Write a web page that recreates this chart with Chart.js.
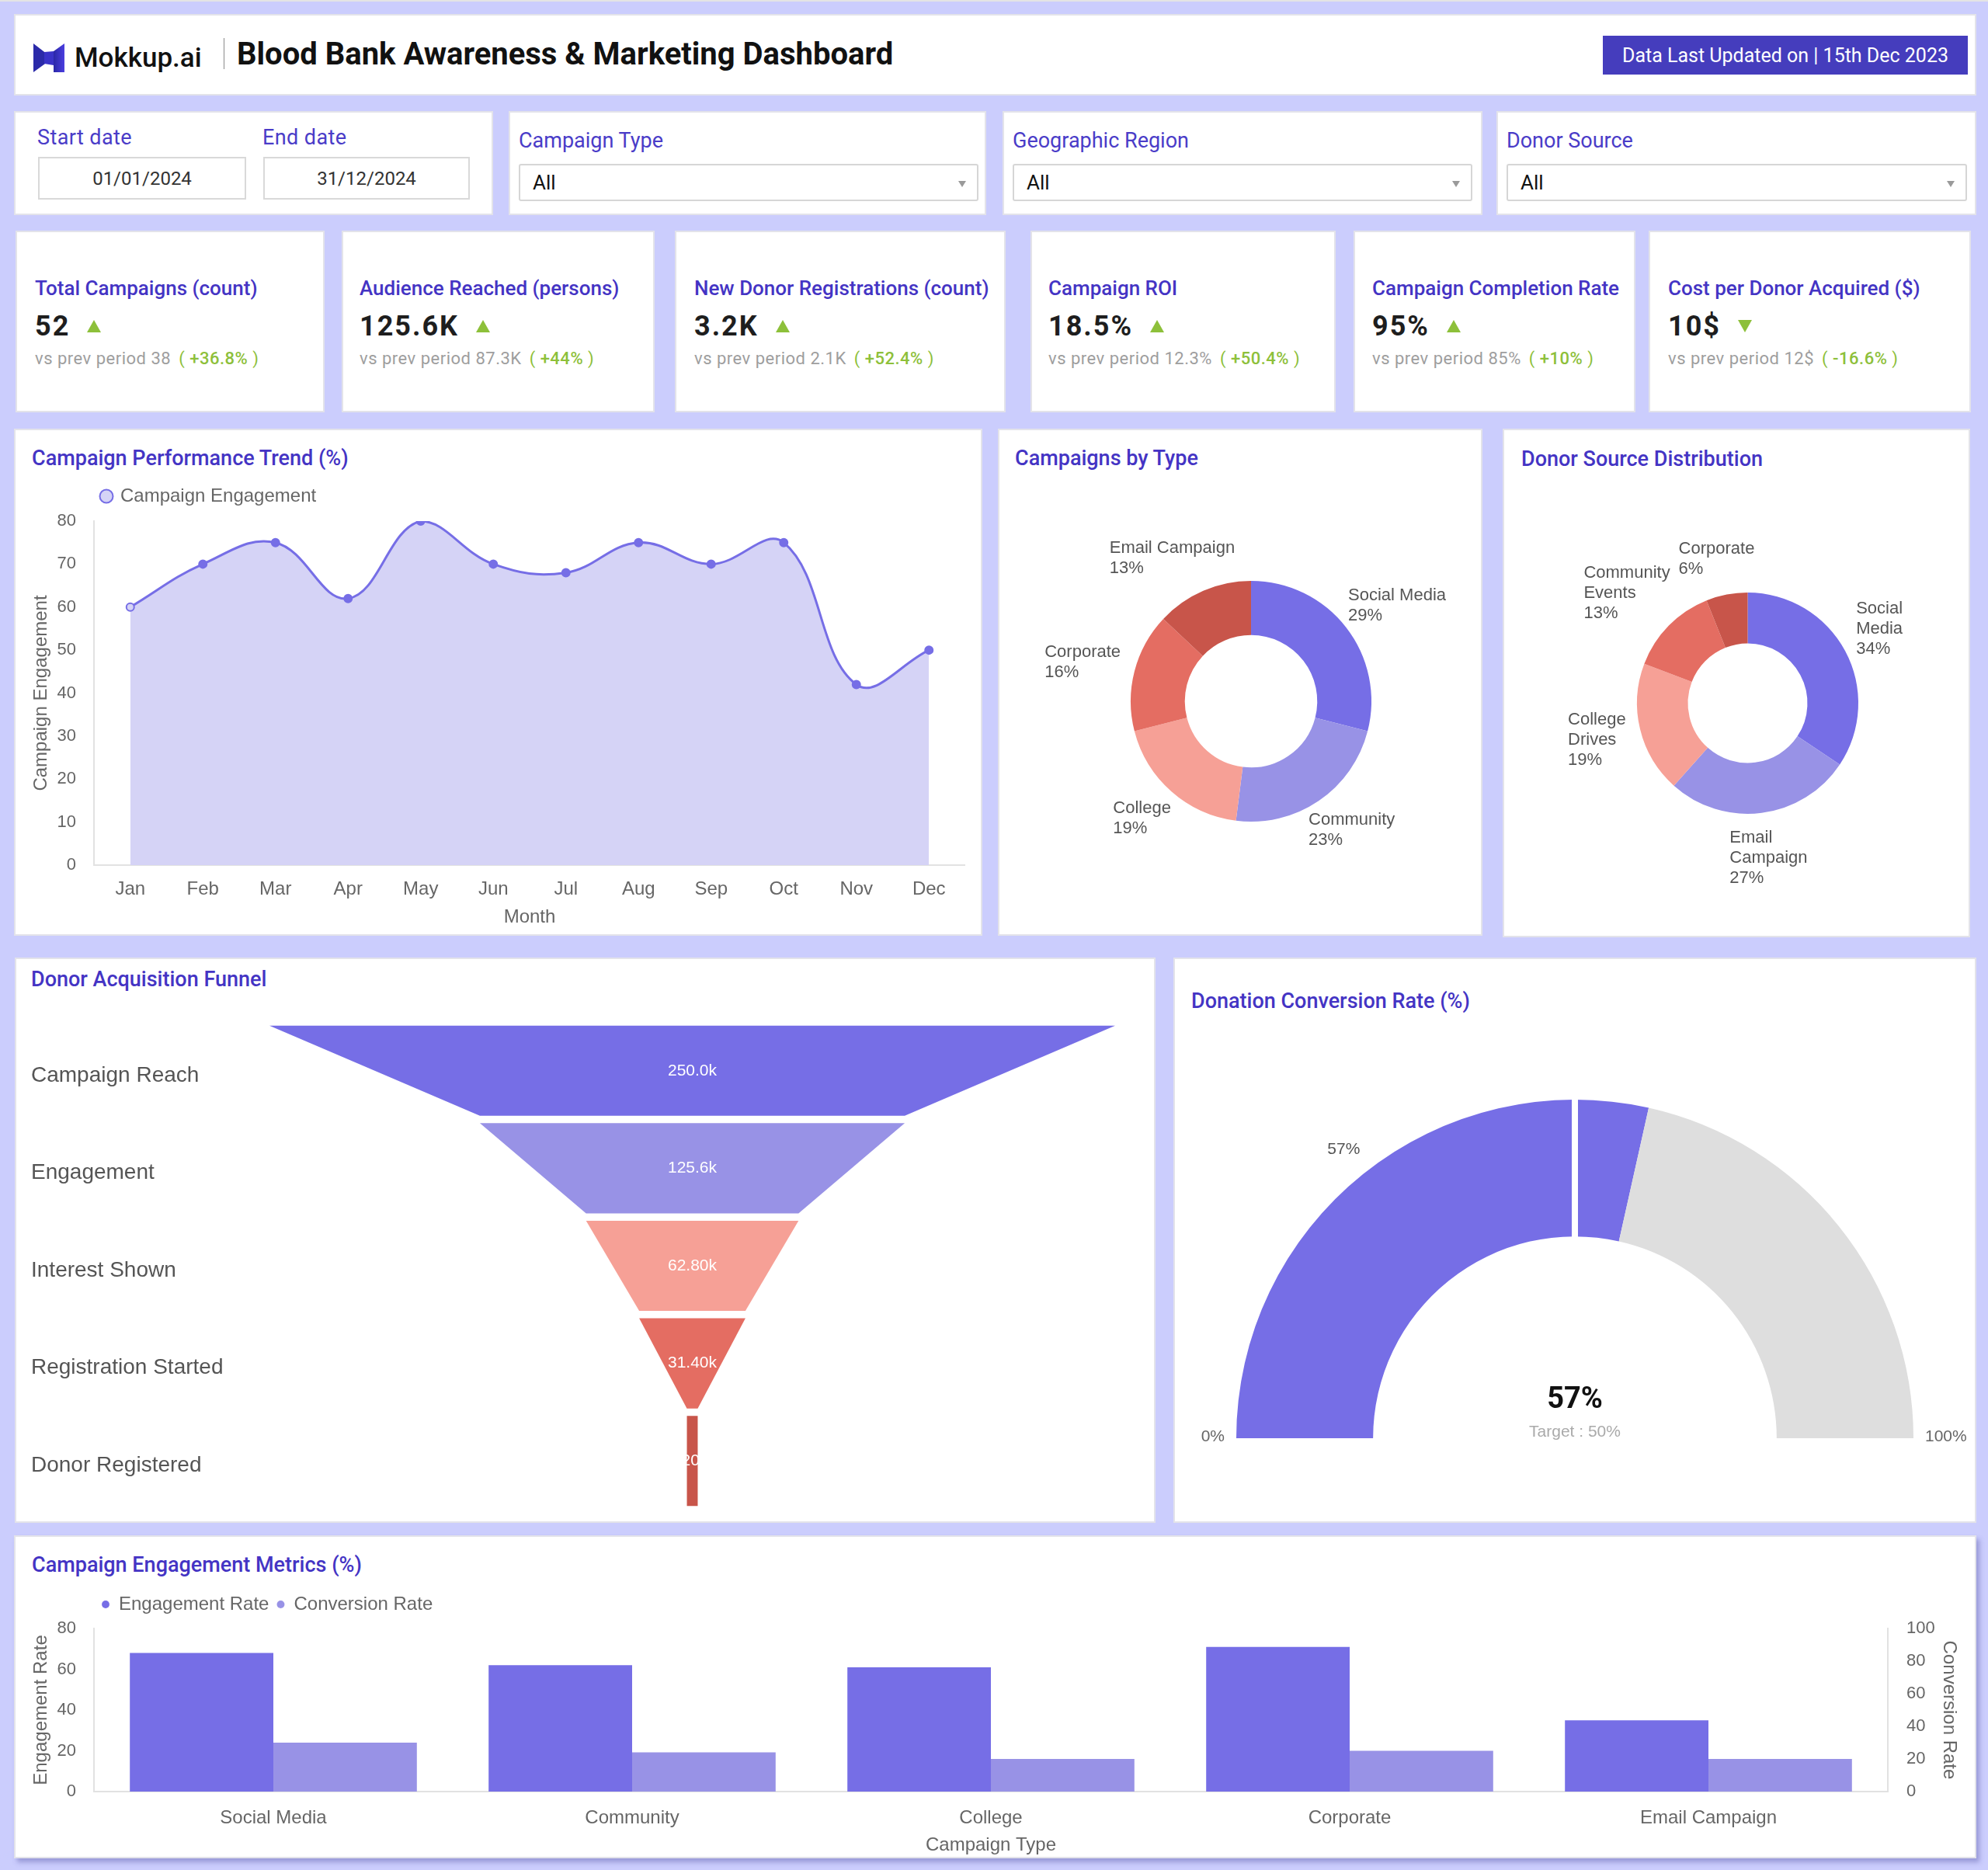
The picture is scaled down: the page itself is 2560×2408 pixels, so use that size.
<!DOCTYPE html>
<html>
<head>
<meta charset="utf-8">
<title>Blood Bank Awareness & Marketing Dashboard</title>
<script src="https://cdn.jsdelivr.net/npm/chart.js@4.4.1/dist/chart.umd.min.js"></script>
<style>
  body { margin: 0; width: 2560px; height: 2408px; background: #cbcdfd; position: relative; overflow: hidden; font-family: Roboto, sans-serif; }
  .topline { position: absolute; left: 0; top: 0; width: 2560px; height: 2px; background: #e4e4e4; }
  .card { position: absolute; background: #fff; border: 2px solid #e3e3ea; box-sizing: border-box; }
  .t { position: absolute; white-space: nowrap; line-height: 1; }
  .head { color: #4434c4; font-weight: 500; font-size: 27px; }
  .flab { color: #4a3cc8; font-size: 27px; }
  .date { position: absolute; border: 2px solid #d9d9d9; box-sizing: border-box; display: flex; align-items: center; justify-content: center; font-size: 24px; color: #333; }
  .sel { position: absolute; border: 2px solid #d6d6d6; border-radius: 3px; box-sizing: border-box; font-size: 26px; color: #111; display: flex; align-items: center; padding-left: 16px; }
  .sel:after { content: ""; position: absolute; right: 14px; top: 20px; border-left: 5px solid transparent; border-right: 5px solid transparent; border-top: 8px solid #9a9a9a; }
  .kt { color: #4434c4; font-weight: 500; font-size: 26px; }
  .kv { font-size: 36px; font-weight: 700; color: #1e1e1e; letter-spacing: 2px; display: flex; align-items: center; }
  .up, .down { display: inline-block; width: 0; height: 0; margin-left: 22px; border-left: 9px solid transparent; border-right: 9px solid transparent; }
  .up { border-bottom: 16px solid #8dc03a; }
  .down { border-top: 16px solid #8dc03a; }
  .ks { font-size: 22px; color: #9e9e9e; letter-spacing: 0.5px; }
  .ks .g { color: #8dc03a; margin-left: 10px; }
  .ks .g b { font-weight: 500; }
  canvas { position: absolute; }
</style>
</head>
<body>
<div class="topline"></div>

<!-- header -->
<div class="card" style="left:18px;top:18px;width:2527px;height:105px"></div>
<svg style="position:absolute;left:43px;top:56px" width="40" height="37" viewBox="0 0 40 37">
  <defs><linearGradient id="lg" x1="0" y1="0" x2="1" y2="0"><stop offset="0" stop-color="#2a27a6"/><stop offset="1" stop-color="#4b3fe0"/></linearGradient></defs>
  <polygon points="0,0 22,17 22,21 0,37" fill="#2b2aa9"/>
  <polygon points="40,0 40,37 26,37 26,10" fill="url(#lg)"/>
  <polygon points="14,11 26,10 26,28 14,26" fill="#3a33c8"/>
</svg>
<div class="t" style="left:96px;top:57px;font-size:35px;font-weight:500;color:#111">Mokkup.ai</div>
<div style="position:absolute;left:288px;top:49px;width:1px;height:40px;background:#8a8a8a"></div>
<div class="t" style="left:305px;top:50px;font-size:40px;font-weight:700;color:#111">Blood Bank Awareness &amp; Marketing Dashboard</div>
<div style="position:absolute;left:2064px;top:46px;width:470px;height:50px;background:#453dbd;color:#fff;font-size:25px;display:flex;align-items:center;justify-content:center">Data Last Updated on | 15th Dec 2023</div>

<!-- filters -->
<div class="card" style="left:18px;top:143px;width:617px;height:134px"></div>
<div class="t flab" style="left:48px;top:164px;letter-spacing:0.4px">Start date</div>
<div class="t flab" style="left:338px;top:164px;letter-spacing:0.4px">End date</div>
<div class="date" style="left:49px;top:202px;width:268px;height:55px">01/01/2024</div>
<div class="date" style="left:339px;top:202px;width:266px;height:55px">31/12/2024</div>

<div class="card" style="left:655px;top:143px;width:615px;height:134px"></div>
<div class="t flab" style="left:668px;top:168px">Campaign Type</div>
<div class="sel" style="left:668px;top:211px;width:592px;height:48px">All</div>

<div class="card" style="left:1291px;top:143px;width:618px;height:134px"></div>
<div class="t flab" style="left:1304px;top:168px">Geographic Region</div>
<div class="sel" style="left:1304px;top:211px;width:592px;height:48px">All</div>

<div class="card" style="left:1927px;top:143px;width:618px;height:134px"></div>
<div class="t flab" style="left:1940px;top:168px">Donor Source</div>
<div class="sel" style="left:1940px;top:211px;width:593px;height:48px">All</div>

<!-- KPI cards -->
<div id="kpis"></div>

<!-- chart cards -->
<div class="card" style="left:18px;top:552px;width:1247px;height:653px"></div>
<div class="t head" style="left:41px;top:577px">Campaign Performance Trend (%)</div>
<canvas id="trend" width="1219" height="582" style="left:24px;top:617px"></canvas>

<div class="card" style="left:1285px;top:552px;width:624px;height:653px"></div>
<div class="t head" style="left:1307px;top:577px">Campaigns by Type</div>
<canvas id="byType" width="620" height="590" style="left:1287px;top:610px"></canvas>

<div class="card" style="left:1935px;top:552px;width:602px;height:655px"></div>
<div class="t head" style="left:1959px;top:578px">Donor Source Distribution</div>
<canvas id="bySource" width="598" height="590" style="left:1937px;top:610px"></canvas>

<div class="card" style="left:19px;top:1233px;width:1469px;height:728px"></div>
<div class="t head" style="left:40px;top:1248px">Donor Acquisition Funnel</div>
<canvas id="funnel" width="1396" height="628" style="left:40px;top:1316px"></canvas>

<div class="card" style="left:1511px;top:1233px;width:1034px;height:728px"></div>
<div class="t head" style="left:1534px;top:1276px">Donation Conversion Rate (%)</div>
<canvas id="gauge" width="1030" height="635" style="left:1513px;top:1320px"></canvas>

<div class="card" style="left:18px;top:1977px;width:2527px;height:416px;box-shadow:4px 5px 6px rgba(90,90,170,0.45)"></div>
<div class="t head" style="left:41px;top:2002px">Campaign Engagement Metrics (%)</div>
<canvas id="metrics" width="2511" height="348" style="left:24px;top:2044px"></canvas>

<script>
// KPI tiles
const kpiTitles = ['Total Campaigns (count)', 'Audience Reached (persons)', 'New Donor Registrations (count)', 'Campaign ROI', 'Campaign Completion Rate', 'Cost per Donor Acquired ($)'];
const kpiValues = ['52', '125.6K', '3.2K', '18.5%', '95%', '10$'];
const kpiPrev = ['38', '87.3K', '2.1K', '12.3%', '85%', '12$'];
const kpiChange = ['+36.8%', '+44%', '+52.4%', '+50.4%', '+10%', '-16.6%'];
const kpiUp = [true, true, true, true, true, false];

// Campaign Performance Trend
const months = ['Jan', 'Feb', 'Mar', 'Apr', 'May', 'Jun', 'Jul', 'Aug', 'Sep', 'Oct', 'Nov', 'Dec'];
const engagement = [60, 70, 75, 62, 80, 70, 68, 75, 70, 75, 42, 50];

// Campaigns by Type (%)
const typeLabels = ['Social Media', 'Community', 'College', 'Corporate', 'Email Campaign'];
const typeShare = [29, 23, 19, 16, 13];

// Donor Source Distribution (%)
const sourceLabels = ['Social Media', 'Email Campaign', 'College Drives', 'Community Events', 'Corporate'];
const sourceShare = [34, 27, 19, 13, 6];

// Donor Acquisition Funnel
const stages = ['Campaign Reach', 'Engagement', 'Interest Shown', 'Registration Started', 'Donor Registered'];
const stageValues = [250000, 125600, 62800, 31400, 3200];

// Donation Conversion Rate
const conversion = 57;
const target = 50;

// Campaign Engagement Metrics
const metricTypes = ['Social Media', 'Community', 'College', 'Corporate', 'Email Campaign'];
const engagementRate = [68, 62, 61, 71, 35];
const conversionRate = [30, 24, 20, 25, 20];

const PURPLE = '#766ee6';
const LILAC = '#9892e6';
const SALMON = '#f6a096';
const CORAL = '#e46d62';
const BRICK = '#c8554a';
const FILL = '#d5d3f6';

Chart.defaults.font.family = "'Liberation Sans', Arial, sans-serif";
Chart.defaults.color = '#666';

// KPI html
const kpiBox = [[20, 418], [440, 843], [869, 1295], [1327, 1720], [1743, 2106], [2123, 2538]];
const kpiTextX = [45, 463, 894, 1350, 1767, 2148];
let html = '';
kpiTitles.forEach((title, i) => {
    html += `<div class="card" style="left:${kpiBox[i][0]}px;top:297px;width:${kpiBox[i][1] - kpiBox[i][0]}px;height:234px"></div>`;
    html += `<div class="t kt" style="left:${kpiTextX[i]}px;top:358px">${title}</div>`;
    html += `<div class="t kv" style="left:${kpiTextX[i]}px;top:402px">${kpiValues[i]}<span class="${kpiUp[i] ? 'up' : 'down'}"></span></div>`;
    html += `<div class="t ks" style="left:${kpiTextX[i]}px;top:451px">vs prev period ${kpiPrev[i]}<span class="g">( <b>${kpiChange[i]}</b> )</span></div>`;
});
document.getElementById('kpis').innerHTML = html;

// pushes the plot area down below the legend by a few px
const legendGap = {
    id: 'legendGap',
    afterInit(chart, args, opts) {
        const lg = chart.legend;
        if (!lg) return;
        const fit = lg.fit;
        lg.fit = function () {
            fit.call(this);
            this.height += opts.extra || 0;
        };
    }
};

// labels outside doughnut slices
const outLabels = {
    id: 'outLabels',
    afterDatasetsDraw(chart, args, opts) {
        const ctx = chart.ctx;
        const meta = chart.getDatasetMeta(0);
        const values = chart.data.datasets[0].data;
        const total = values.reduce((a, b) => a + b, 0);
        const lh = 26;
        ctx.save();
        ctx.font = "22px 'Liberation Sans', Arial, sans-serif";
        ctx.fillStyle = '#555';
        ctx.textBaseline = 'middle';
        ctx.textAlign = 'left';
        meta.data.forEach((arc, i) => {
            const p = arc.getProps(['x', 'y', 'startAngle', 'endAngle', 'outerRadius']);
            const mid = (p.startAngle + p.endAngle) / 2;
            const ux = Math.cos(mid), uy = Math.sin(mid);
            const name = chart.data.labels[i];
            const lines = (opts.wrap ? name.split(' ') : [name]).concat(Math.round(values[i] / total * 100) + '%');
            const w = Math.max(...lines.map(l => ctx.measureText(l).width));
            const h = lines.length * lh;
            const d = p.outerRadius + 20;
            const cx = p.x + ux * d + ux * w / 2;
            const cy = p.y + uy * d + uy * h / 2;
            lines.forEach((l, k) => ctx.fillText(l, cx - w / 2, cy - h / 2 + lh * (k + 0.5)));
        });
        ctx.restore();
    }
};

// trapezoid funnel drawn from the bar elements
const funnelShape = {
    id: 'funnelShape',
    beforeDatasetDraw(chart, args) {
        const ctx = chart.ctx;
        const els = chart.getDatasetMeta(args.index).data;
        const colors = chart.data.datasets[args.index].backgroundColor;
        ctx.save();
        els.forEach((el, i) => {
            const nxt = els[i + 1] || el;
            const top = el.y - el.height / 2, bot = el.y + el.height / 2;
            ctx.beginPath();
            ctx.moveTo(Math.min(el.x, el.base), top);
            ctx.lineTo(Math.max(el.x, el.base), top);
            ctx.lineTo(Math.max(nxt.x, nxt.base), bot);
            ctx.lineTo(Math.min(nxt.x, nxt.base), bot);
            ctx.closePath();
            ctx.fillStyle = colors[i];
            ctx.fill();
        });
        ctx.font = "21px 'Liberation Sans', Arial, sans-serif";
        ctx.fillStyle = '#fff';
        ctx.textAlign = 'center';
        ctx.textBaseline = 'middle';
        els.forEach((el, i) => {
            ctx.fillText((stageValues[i] / 1000).toPrecision(4) + 'k', (el.x + el.base) / 2, el.y);
        });
        ctx.restore();
        return false;
    }
};

// gauge extras: target tick, labels, centre text
const gaugeText = {
    id: 'gaugeText',
    afterDatasetsDraw(chart) {
        const ctx = chart.ctx;
        const arcs = chart.getDatasetMeta(0).data;
        const a0 = arcs[0], aN = arcs[arcs.length - 1];
        const cx = a0.x, cy = a0.y, R = a0.outerRadius, r = a0.innerRadius;
        const start = a0.startAngle, end = aN.endAngle;
        const tAng = start + (end - start) * target / 100;
        ctx.save();
        ctx.strokeStyle = '#fff';
        ctx.lineWidth = 8;
        ctx.beginPath();
        ctx.moveTo(cx + Math.cos(tAng) * (r - 1), cy + Math.sin(tAng) * (r - 1));
        ctx.lineTo(cx + Math.cos(tAng) * (R + 1), cy + Math.sin(tAng) * (R + 1));
        ctx.stroke();

        ctx.textBaseline = 'middle';
        ctx.font = "21px 'Liberation Sans', Arial, sans-serif";
        ctx.fillStyle = '#666';
        ctx.textAlign = 'right';
        ctx.fillText('0%', cx - R - 15, cy - 2);
        ctx.textAlign = 'left';
        ctx.fillText('100%', cx + R + 15, cy - 2);

        const mid = (a0.startAngle + a0.endAngle) / 2;
        ctx.textAlign = 'center';
        ctx.fillStyle = '#555';
        ctx.fillText(conversion + '%', cx + Math.cos(mid) * (R + 40), cy + Math.sin(mid) * (R + 40));

        ctx.font = "bold 38px Roboto, sans-serif";
        ctx.fillStyle = '#111';
        ctx.fillText(conversion + '%', cx, cy - 49);
        ctx.font = "21px 'Liberation Sans', Arial, sans-serif";
        ctx.fillStyle = '#aaa';
        ctx.fillText('Target : ' + target + '%', cx, cy - 8);
        ctx.restore();
    }
};

new Chart(document.getElementById('trend'), {
    type: 'line',
    data: {
        labels: months,
        datasets: [{
            label: 'Campaign Engagement',
            data: engagement,
            borderColor: PURPLE,
            backgroundColor: FILL,
            fill: true,
            tension: 0.4,
            borderWidth: 3,
            pointRadius: 5,
            pointBorderWidth: 2,
            pointBackgroundColor: c => c.dataIndex === 0 ? FILL : PURPLE,
            pointBorderColor: PURPLE
        }]
    },
    options: {
        responsive: false,
        animation: false,
        layout: { autoPadding: false },
        plugins: {
            legend: {
                fullSize: false,
                align: 'start',
                labels: { usePointStyle: true, pointStyle: 'circle', boxWidth: 12, boxHeight: 12, padding: 10, color: '#666', font: { size: 24 } }
            },
            tooltip: { enabled: false },
            legendGap: { extra: 10 }
        },
        scales: {
            x: {
                offset: true,
                grid: { display: false },
                border: { color: '#e2e2e2', width: 2 },
                ticks: { color: '#666', font: { size: 24 }, padding: 9 },
                title: { display: true, text: 'Month', color: '#666', font: { size: 24 }, padding: { top: 0, bottom: 3 } },
                afterFit: s => { s.height = 85; }
            },
            y: {
                min: 0,
                max: 80,
                grid: { display: false },
                border: { color: '#e2e2e2', width: 2 },
                ticks: { stepSize: 10, color: '#666', font: { size: 22 }, padding: 15 },
                title: { display: true, text: 'Campaign Engagement', color: '#666', font: { size: 24 }, padding: { top: 15, bottom: 0 } },
                afterFit: s => { s.width = 97; }
            }
        }
    },
    plugins: [legendGap]
});

new Chart(document.getElementById('byType'), {
    type: 'doughnut',
    data: {
        labels: typeLabels,
        datasets: [{ data: typeShare, backgroundColor: [PURPLE, LILAC, SALMON, CORAL, BRICK], borderWidth: 0 }]
    },
    options: {
        responsive: false,
        animation: false,
        cutout: '55%',
        layout: { padding: { left: 169, right: 141, top: 138, bottom: 142 } },
        plugins: { legend: { display: false }, tooltip: { enabled: false }, outLabels: { wrap: false } }
    },
    plugins: [outLabels]
});

new Chart(document.getElementById('bySource'), {
    type: 'doughnut',
    data: {
        labels: sourceLabels,
        datasets: [{ data: sourceShare, backgroundColor: [PURPLE, LILAC, SALMON, CORAL, BRICK], borderWidth: 0 }]
    },
    options: {
        responsive: false,
        animation: false,
        cutout: '54%',
        layout: { padding: { left: 171, right: 142, top: 153, bottom: 152 } },
        plugins: { legend: { display: false }, tooltip: { enabled: false }, outLabels: { wrap: true } }
    },
    plugins: [outLabels]
});

const stageMax = Math.max(...stageValues);
new Chart(document.getElementById('funnel'), {
    type: 'bar',
    data: {
        labels: stages,
        datasets: [{
            data: stageValues.map(v => [-v / 2, v / 2]),
            backgroundColor: [PURPLE, LILAC, SALMON, CORAL, BRICK],
            barPercentage: 0.924,
            categoryPercentage: 1
        }]
    },
    options: {
        indexAxis: 'y',
        responsive: false,
        animation: false,
        layout: { autoPadding: false },
        plugins: { legend: { display: false }, tooltip: { enabled: false } },
        scales: {
            x: { display: false, min: -stageMax / 2, max: stageMax / 2 },
            y: {
                grid: { display: false },
                border: { display: false },
                ticks: { crossAlign: 'far', color: '#555', font: { size: 28 }, padding: 0, labelOffset: 6 },
                afterFit: s => { s.width = 307; s.paddingTop = 0; s.paddingBottom = 0; }
            }
        }
    },
    plugins: [funnelShape]
});

new Chart(document.getElementById('gauge'), {
    type: 'doughnut',
    data: {
        labels: ['Conversion', 'Remaining'],
        datasets: [{ data: [conversion, 100 - conversion], backgroundColor: [PURPLE, '#dedede'], borderWidth: 0 }]
    },
    options: {
        responsive: false,
        animation: false,
        rotation: -90,
        circumference: 180,
        cutout: '59.6%',
        layout: { padding: { left: 79, right: 79, top: 96, bottom: 103 } },
        plugins: { legend: { display: false }, tooltip: { enabled: false } }
    },
    plugins: [gaugeText]
});

new Chart(document.getElementById('metrics'), {
    type: 'bar',
    data: {
        labels: metricTypes,
        datasets: [
            { label: 'Engagement Rate', data: engagementRate, backgroundColor: PURPLE, yAxisID: 'y', categoryPercentage: 0.8, barPercentage: 1 },
            { label: 'Conversion Rate', data: conversionRate, backgroundColor: LILAC, yAxisID: 'y1', categoryPercentage: 0.8, barPercentage: 1 }
        ]
    },
    options: {
        responsive: false,
        animation: false,
        plugins: {
            legend: {
                fullSize: false,
                align: 'start',
                labels: { usePointStyle: true, pointStyle: 'circle', boxWidth: 10, boxHeight: 7, padding: 10, color: '#666', font: { size: 24 } }
            },
            tooltip: { enabled: false },
            legendGap: { extra: 9 }
        },
        scales: {
            x: {
                grid: { display: false },
                border: { color: '#e2e2e2', width: 2 },
                ticks: { color: '#666', font: { size: 24 }, padding: 12 },
                title: { display: true, text: 'Campaign Type', color: '#666', font: { size: 24 }, padding: { top: 0, bottom: 1 } },
                afterFit: s => { s.height = 85; }
            },
            y: {
                position: 'left',
                min: 0,
                max: 80,
                grid: { display: false },
                border: { color: '#e2e2e2', width: 2 },
                ticks: { stepSize: 20, color: '#666', font: { size: 22 }, padding: 15 },
                title: { display: true, text: 'Engagement Rate', color: '#666', font: { size: 24 }, padding: { top: 15, bottom: 0 } },
                afterFit: s => { s.width = 97; }
            },
            y1: {
                position: 'right',
                min: 0,
                max: 100,
                grid: { display: false },
                border: { color: '#e2e2e2', width: 2 },
                ticks: { stepSize: 20, color: '#666', font: { size: 22 }, padding: 16 },
                title: { display: true, text: 'Conversion Rate', color: '#666', font: { size: 24 }, padding: { top: 11, bottom: 0 } },
                afterFit: s => { s.width = 104; }
            }
        }
    },
    plugins: [legendGap]
});
</script>
</body>
</html>
